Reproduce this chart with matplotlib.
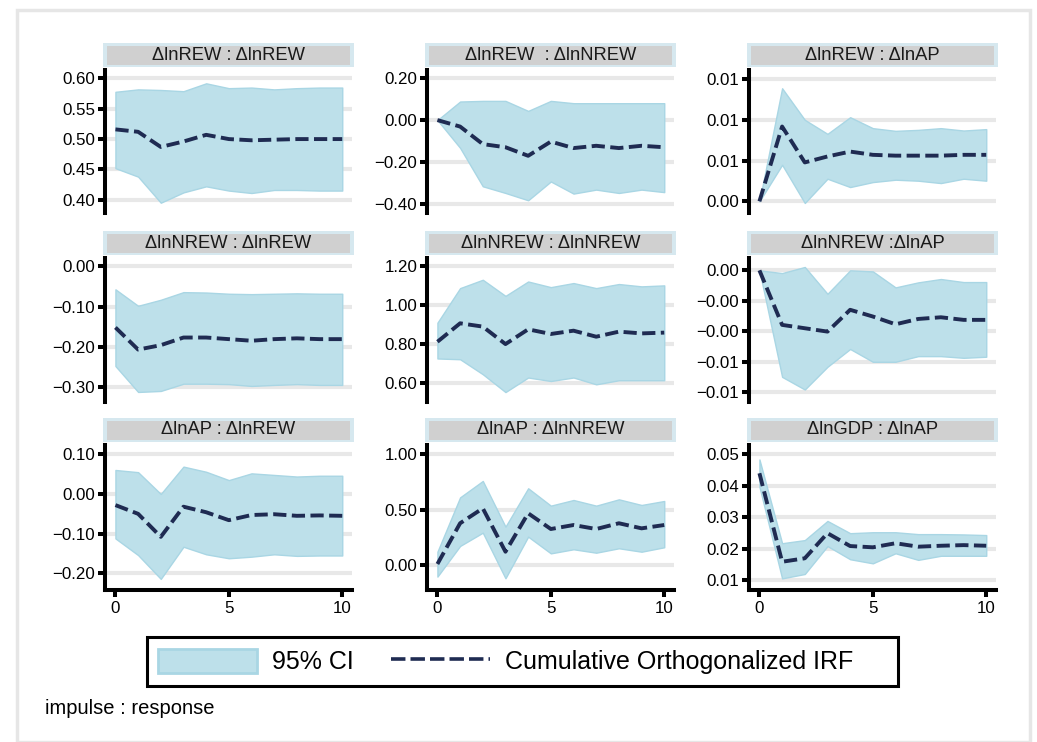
import matplotlib
matplotlib.use("Agg")
import matplotlib.pyplot as plt
from matplotlib.patches import Rectangle, Patch
from matplotlib.lines import Line2D

# ---------------------------------------------------------------
# data (steps 0..10)
steps = [0, 1, 2, 3, 4, 5, 6, 7, 8, 9, 10]

titles = ["ΔlnREW : ΔlnREW", "ΔlnREW  : ΔlnNREW", "ΔlnREW : ΔlnAP",
          "ΔlnNREW : ΔlnREW", "ΔlnNREW : ΔlnNREW", "ΔlnNREW :ΔlnAP",
          "ΔlnAP : ΔlnREW", "ΔlnAP : ΔlnNREW", "ΔlnGDP : ΔlnAP"]

irf_rew_rew = [0.516, 0.512, 0.487, 0.496, 0.507, 0.500, 0.498, 0.499, 0.500, 0.500, 0.500]
hi_rew_rew = [0.578, 0.582, 0.581, 0.579, 0.592, 0.584, 0.585, 0.582, 0.584, 0.585, 0.585]
lo_rew_rew = [0.452, 0.438, 0.395, 0.412, 0.422, 0.415, 0.411, 0.416, 0.416, 0.415, 0.415]

irf_rew_nrew = [0.0, -0.031, -0.115, -0.130, -0.171, -0.103, -0.134, -0.123, -0.134, -0.123, -0.130]
hi_rew_nrew = [0.0, 0.089, 0.092, 0.092, 0.044, 0.092, 0.081, 0.081, 0.081, 0.081, 0.081]
lo_rew_nrew = [0.0, -0.133, -0.317, -0.349, -0.384, -0.294, -0.352, -0.333, -0.349, -0.333, -0.345]

irf_rew_ap = [0.0, 0.00917, 0.00477, 0.0055, 0.0061, 0.0057, 0.0056, 0.0056, 0.0056, 0.0057, 0.0057]
hi_rew_ap = [0.0, 0.01386, 0.00999, 0.00827, 0.01031, 0.00897, 0.00864, 0.00876, 0.00897, 0.00868, 0.00885]
lo_rew_ap = [0.0, 0.00448, -0.0002, 0.00277, 0.00175, 0.00236, 0.00265, 0.00253, 0.00224, 0.00277, 0.00253]

irf_nrew_rew = [-0.152, -0.207, -0.196, -0.177, -0.177, -0.181, -0.185, -0.181, -0.179, -0.181, -0.181]
hi_nrew_rew = [-0.057, -0.098, -0.083, -0.064, -0.065, -0.068, -0.069, -0.068, -0.067, -0.068, -0.068]
lo_nrew_rew = [-0.248, -0.3125, -0.310, -0.292, -0.292, -0.293, -0.2975, -0.295, -0.293, -0.295, -0.295]

irf_nrew_nrew = [0.812, 0.907, 0.890, 0.800, 0.876, 0.852, 0.869, 0.838, 0.864, 0.855, 0.859]
hi_nrew_nrew = [0.910, 1.088, 1.131, 1.048, 1.122, 1.093, 1.114, 1.088, 1.109, 1.097, 1.102]
lo_nrew_nrew = [0.726, 0.722, 0.645, 0.553, 0.628, 0.610, 0.628, 0.593, 0.614, 0.614, 0.614]

irf_nrew_ap = [0.0, -0.00358, -0.0038, -0.00402, -0.00259, -0.00303, -0.00354, -0.00319, -0.00308, -0.00325, -0.00325]
hi_nrew_ap = [0.0, -0.00018, 0.00022, -0.00154, 0.0, -0.00007, -0.00112, -0.00079, -0.00057, -0.00077, -0.00077]
lo_nrew_ap = [0.0, -0.00699, -0.00782, -0.00633, -0.00516, -0.0060, -0.0060, -0.00563, -0.00563, -0.00574, -0.00567]

irf_ap_rew = [-0.028, -0.050, -0.108, -0.032, -0.046, -0.066, -0.053, -0.051, -0.055, -0.054, -0.055]
hi_ap_rew = [0.0605, 0.055, 0.0, 0.069, 0.056, 0.035, 0.052, 0.048, 0.044, 0.046, 0.046]
lo_ap_rew = [-0.112, -0.154, -0.214, -0.133, -0.152, -0.162, -0.158, -0.152, -0.156, -0.155, -0.155]

irf_ap_nrew = [0.009, 0.377, 0.512, 0.120, 0.467, 0.325, 0.361, 0.325, 0.377, 0.331, 0.361]
hi_ap_nrew = [0.120, 0.611, 0.759, 0.346, 0.693, 0.536, 0.587, 0.536, 0.593, 0.542, 0.578]
lo_ap_nrew = [-0.105, 0.172, 0.292, -0.120, 0.256, 0.105, 0.142, 0.111, 0.151, 0.120, 0.160]

irf_gdp_ap = [0.044, 0.0158, 0.0169, 0.0249, 0.0208, 0.0204, 0.0217, 0.0206, 0.0209, 0.0211, 0.0209]
hi_gdp_ap = [0.0484, 0.0217, 0.0227, 0.0288, 0.0249, 0.0252, 0.0252, 0.0246, 0.0246, 0.0245, 0.0243]
lo_gdp_ap = [0.0397, 0.0105, 0.0119, 0.0208, 0.0166, 0.0153, 0.0185, 0.0164, 0.0177, 0.0177, 0.0177]

irfs = [irf_rew_rew, irf_rew_nrew, irf_rew_ap, irf_nrew_rew, irf_nrew_nrew,
        irf_nrew_ap, irf_ap_rew, irf_ap_nrew, irf_gdp_ap]
his = [hi_rew_rew, hi_rew_nrew, hi_rew_ap, hi_nrew_rew, hi_nrew_nrew,
       hi_nrew_ap, hi_ap_rew, hi_ap_nrew, hi_gdp_ap]
los = [lo_rew_rew, lo_rew_nrew, lo_rew_ap, lo_nrew_rew, lo_nrew_nrew,
       lo_nrew_ap, lo_ap_rew, lo_ap_nrew, lo_gdp_ap]

yticks = [[0.40, 0.45, 0.50, 0.55, 0.60],
          [-0.40, -0.20, 0.00, 0.20],
          [0.0, 0.005, 0.01, 0.015],
          [-0.30, -0.20, -0.10, 0.00],
          [0.60, 0.80, 1.00, 1.20],
          [-0.008, -0.006, -0.004, -0.002, 0.0],
          [-0.20, -0.10, 0.00, 0.10],
          [0.00, 0.50, 1.00],
          [0.01, 0.02, 0.03, 0.04, 0.05]]
ylims = [(0.378, 0.614), (-0.445, 0.240), (-0.00143, 0.0161),
         (-0.3375, 0.021), (0.502, 1.243), (-0.00864, 0.00081),
         (-0.242, 0.1235), (-0.226, 1.084), (0.0068, 0.053)]
xticks = [0, 5, 10]

# ---------------------------------------------------------------
W, H = 1037, 742
fill_col = "#bde0ea"
fill_edge = "#a9d6e4"
line_col = "#1f2b52"
grid_col = "#e8e8e8"
DASH = (3.4, 1.4)

plt.rcParams["font.family"] = ["Liberation Sans", "DejaVu Sans"]

fig = plt.figure(figsize=(W / 100, H / 100), dpi=100)
fig.patch.set_facecolor("white")

# light frame around the graph region
fig.add_artist(Rectangle((17 / W, 0), 1013 / W, 1 - 10 / H, transform=fig.transFigure,
                         facecolor="none", edgecolor="#e6e6e6", lw=2.5))

col_left = [105, 427, 749]
ax_w = 247
row_top = [70, 258, 445]
row_bot = [213, 402, 590]

for k in range(9):
    r, c = divmod(k, 3)
    l, t, b = col_left[c], row_top[r], row_bot[r]
    ax = fig.add_axes([l / W, 1 - b / H, ax_w / W, (b - t) / H])
    ax.set_facecolor("none")
    ax.fill_between(steps, los[k], his[k], facecolor=fill_col, edgecolor=fill_edge,
                    lw=1, zorder=2)
    ln, = ax.plot(steps, irfs[k], color=line_col, lw=2.8, zorder=3)
    ln.set_dashes(DASH)
    ax.set_xlim(-0.46, 10.43)
    ax.set_ylim(*ylims[k])
    ax.set_yticks(yticks[k])
    ax.set_yticklabels([("%.2f" % v).replace("-", "\u2212") for v in yticks[k]])
    ax.yaxis.grid(True, color=grid_col, lw=3, zorder=0)
    ax.set_axisbelow(True)
    for s in ["top", "right"]:
        ax.spines[s].set_visible(False)
    ax.spines["left"].set_linewidth(2.9)
    ax.tick_params(axis="y", length=5, width=2.9, labelsize=12.2, pad=2)
    if r == 2:
        ax.spines["bottom"].set_linewidth(2.9)
        ax.set_xticks(xticks)
        ax.tick_params(axis="x", length=5, width=2.9, labelsize=12.2, pad=3)
    else:
        ax.spines["bottom"].set_visible(False)
        ax.set_xticks([])

    # strip title above each panel
    sx0, sx1 = l - 2, l + ax_w + 2
    sy0, sy1 = t - 27, t - 3
    fig.add_artist(Rectangle((sx0 / W, 1 - sy1 / H), (sx1 - sx0) / W, (sy1 - sy0) / H,
                             transform=fig.transFigure, facecolor="#d6e8ef", edgecolor="none"))
    fig.add_artist(Rectangle(((sx0 + 4) / W, 1 - (sy1 - 2) / H), (sx1 - sx0 - 8) / W,
                             (sy1 - sy0 - 5) / H, transform=fig.transFigure,
                             facecolor="#d0d0d0", edgecolor="none"))
    fig.text((sx0 + sx1) / 2 / W, 1 - (sy0 + sy1) / 2 / H, titles[k], ha="center",
             va="center", fontsize=13.2, color="#1a1a1a")

# legend: frame drawn separately so the right padding matches
handles = [Patch(facecolor=fill_col, edgecolor=fill_edge, lw=2),
           Line2D([0], [0], color=line_col, lw=2.6, dashes=(4, 1.4))]
leg = fig.legend(handles, ["95% CI", "Cumulative Orthogonalized IRF"], loc="center left",
                 bbox_to_anchor=(158 / W, 1 - 661.5 / H), ncol=2, frameon=False,
                 prop={"size": 18}, handlelength=3.96, handleheight=1.08,
                 handletextpad=0.6, columnspacing=1.5, borderpad=0, borderaxespad=0)
fig.add_artist(Rectangle((147 / W, 1 - 686 / H), 751 / W, 49 / H, transform=fig.transFigure,
                         facecolor="none", edgecolor="black", lw=2.2))

fig.text(45 / W, 1 - 709 / H, "impulse : response", ha="left", va="center", fontsize=14.5)

fig.savefig("out.png", dpi=100, facecolor="white")
